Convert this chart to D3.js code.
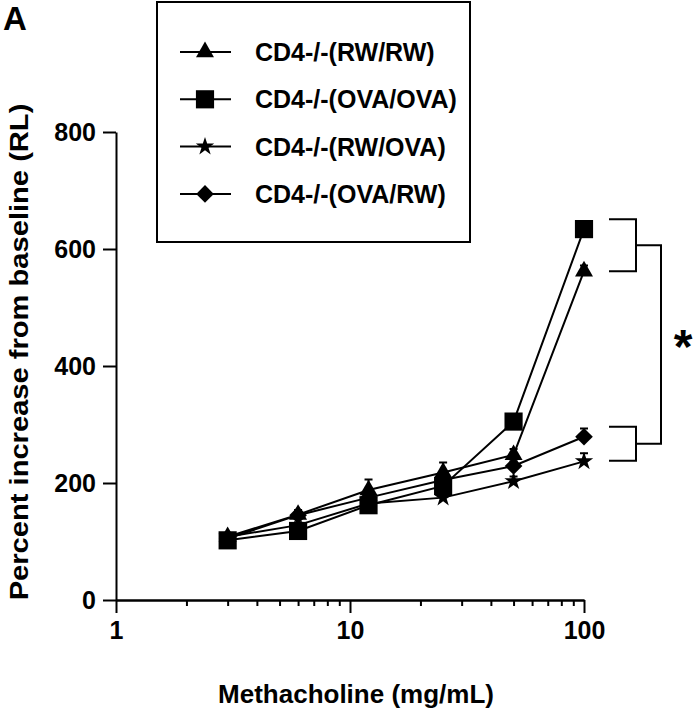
<!DOCTYPE html>
<html>
<head>
<meta charset="utf-8">
<script src="https://cdn.jsdelivr.net/npm/d3@7"></script>
<style>
  html, body { margin: 0; padding: 0; background: #fff; }
  svg { display: block; }
  text { font-family: "Liberation Sans", Arial, sans-serif; font-weight: bold; fill: #000; }
</style>
</head>
<body>
<svg id="chart" width="697" height="720"></svg>
<script>
// ---- Data ----
const doses = [3, 6, 12, 25, 50, 100];
const seriesNames = ["CD4-/-(RW/RW)", "CD4-/-(OVA/OVA)", "CD4-/-(RW/OVA)", "CD4-/-(OVA/RW)"];
const seriesSymbols = ["triangle", "square", "star", "diamond"];
const rwRwValues   = [108, 146, 188, 218, 248, 562];
const ovaOvaValues = [102, 118, 162, 195, 305, 634];
const rwOvaValues  = [108, 128, 165, 175, 203, 237];
const ovaRwValues  = [105, 145, 175, 205, 229, 279];
const rwRwErr   = [5, 8, 18, 17, 10, 10];
const ovaOvaErr = [5, 5, 8, 10, 12, 10];
const rwOvaErr  = [5, 5, 5, 8, 8, 14];
const ovaRwErr  = [5, 6, 8, 10, 8, 14];
const yTickValues = [0, 200, 400, 600, 800];
const xMajorTicks = [1, 10, 100];
const xMinorTicks = [2, 3, 4, 5, 6, 7, 8, 9, 20, 30, 40, 50, 60, 70, 80, 90];
const upperBracket = [651, 562];
const lowerBracket = [296, 238];
const xTitle = "Methacholine (mg/mL)";
const yTitle = "Percent increase from baseline (RL)";
const panelLabel = "A";
const sigLabel = "*";

const seriesValues = [rwRwValues, ovaOvaValues, rwOvaValues, ovaRwValues];
const seriesErrs = [rwRwErr, ovaOvaErr, rwOvaErr, ovaRwErr];

// ---- Layout ----
const svg = d3.select("#chart");
const x = d3.scaleLog().domain([1, 100]).range([116, 584]);
const y = d3.scaleLinear().domain([0, 800]).range([600, 132]);

// symbol helper
function symbolPath(kind) {
  if (kind === "triangle") return d3.symbol(d3.symbolTriangle, 140)();
  if (kind === "square") return d3.symbol(d3.symbolSquare, 330)();
  if (kind === "star") return d3.symbol(d3.symbolStar, 105)();
  if (kind === "diamond") return d3.symbol(d3.symbolSquare, 155)();
  return d3.symbol(d3.symbolCircle, 100)();
}
function symbolTransform(kind, px, py) {
  return kind === "diamond" ? `translate(${px},${py}) rotate(45)` : `translate(${px},${py})`;
}

// ---- Axes ----
const yAxis = d3.axisLeft(y).tickValues(yTickValues).tickSize(13).tickSizeOuter(0).tickPadding(7).tickFormat(d3.format("d"));
const gy = svg.append("g").attr("transform", `translate(${x.range()[0]},0)`).call(yAxis);
gy.selectAll("text").style("font-size", "25px").style("font-family", '"Liberation Sans", Arial, sans-serif').style("font-weight", "bold");

const xAxisMinor = d3.axisBottom(x).tickValues(xMinorTicks).tickSize(6).tickSizeOuter(0).tickFormat("");
svg.append("g").attr("transform", `translate(0,${y(0)})`).call(xAxisMinor);
const xAxisMajor = d3.axisBottom(x).tickValues(xMajorTicks).tickSize(13).tickSizeOuter(0).tickPadding(8).tickFormat(d3.format("d"));
const gx = svg.append("g").attr("transform", `translate(0,${y(0)})`).call(xAxisMajor);
gx.selectAll("text").style("font-size", "25px").style("font-family", '"Liberation Sans", Arial, sans-serif').style("font-weight", "bold");

svg.selectAll(".domain, .tick line").attr("stroke", "#000").attr("stroke-width", 2);

// axis titles
svg.append("text").attr("x", 356).attr("y", 703).attr("text-anchor", "middle")
  .style("font-size", "26px").text(xTitle);
svg.append("text").attr("transform", "translate(28,352) scale(1,1.12) rotate(-90)").attr("text-anchor", "middle")
  .style("font-size", "26px").text(yTitle);
svg.append("text").attr("x", 3).attr("y", 30).style("font-size", "33px").text(panelLabel);

// ---- Series ----
const line = d3.line().x((d) => x(d[0])).y((d) => y(d[1]));
seriesValues.forEach((vals, si) => {
  const pts = doses.map((dv, i) => [dv, vals[i], seriesErrs[si][i]]);
  const g = svg.append("g");
  g.append("path").datum(pts).attr("d", line).attr("fill", "none").attr("stroke", "#000").attr("stroke-width", 2);
  // error bars (upward)
  g.selectAll(".eb").data(pts).enter().append("path")
    .attr("d", (d) => {
      const px = x(d[0]), py0 = y(d[1]), py1 = y(d[1] + d[2]);
      return `M${px},${py0}V${py1}M${px - 4},${py1}H${px + 4}`;
    })
    .attr("stroke", "#000").attr("stroke-width", 2).attr("fill", "none");
});
seriesValues.forEach((vals, si) => {
  const kind = seriesSymbols[si];
  svg.append("g").selectAll("path").data(doses.map((dv, i) => [dv, vals[i]])).enter().append("path")
    .attr("d", symbolPath(kind))
    .attr("transform", (d) => symbolTransform(kind, x(d[0]), y(d[1])))
    .attr("fill", "#000");
});

// ---- Significance brackets ----
const bx0 = x(100) + 25, bx1 = x(100) + 52, bx2 = x(100) + 77;
function bracket(vals) {
  const ya = y(vals[0]), yb = y(vals[1]);
  return `M${bx0},${ya}H${bx1}V${yb}H${bx0}`;
}
const brG = svg.append("g").attr("fill", "none").attr("stroke", "#000").attr("stroke-width", 2);
brG.append("path").attr("d", bracket(upperBracket));
brG.append("path").attr("d", bracket(lowerBracket));
const midU = (y(upperBracket[0]) + y(upperBracket[1])) / 2;
const midL = (y(lowerBracket[0]) + y(lowerBracket[1])) / 2;
brG.append("path").attr("d", `M${bx1},${midU}H${bx2}V${midL}H${bx1}`);
svg.append("text").attr("x", bx2 + 22).attr("y", (midU + midL) / 2 + 18).attr("text-anchor", "middle")
  .style("font-size", "48px").text(sigLabel);

// ---- Legend ----
const leg = svg.append("g");
leg.append("rect").attr("x", 157).attr("y", 2).attr("width", 313).attr("height", 240)
  .attr("fill", "#fff").attr("stroke", "#000").attr("stroke-width", 2);
seriesNames.forEach((name, i) => {
  const ly = 52 + i * 47.3;
  leg.append("line").attr("x1", 180).attr("x2", 231).attr("y1", ly).attr("y2", ly)
    .attr("stroke", "#000").attr("stroke-width", 2);
  leg.append("path").attr("d", symbolPath(seriesSymbols[i]))
    .attr("transform", symbolTransform(seriesSymbols[i], 205, ly)).attr("fill", "#000");
  leg.append("text").attr("x", 255).attr("y", ly).attr("dy", "0.36em")
    .style("font-size", "25px").text(name);
});
</script>
</body>
</html>
